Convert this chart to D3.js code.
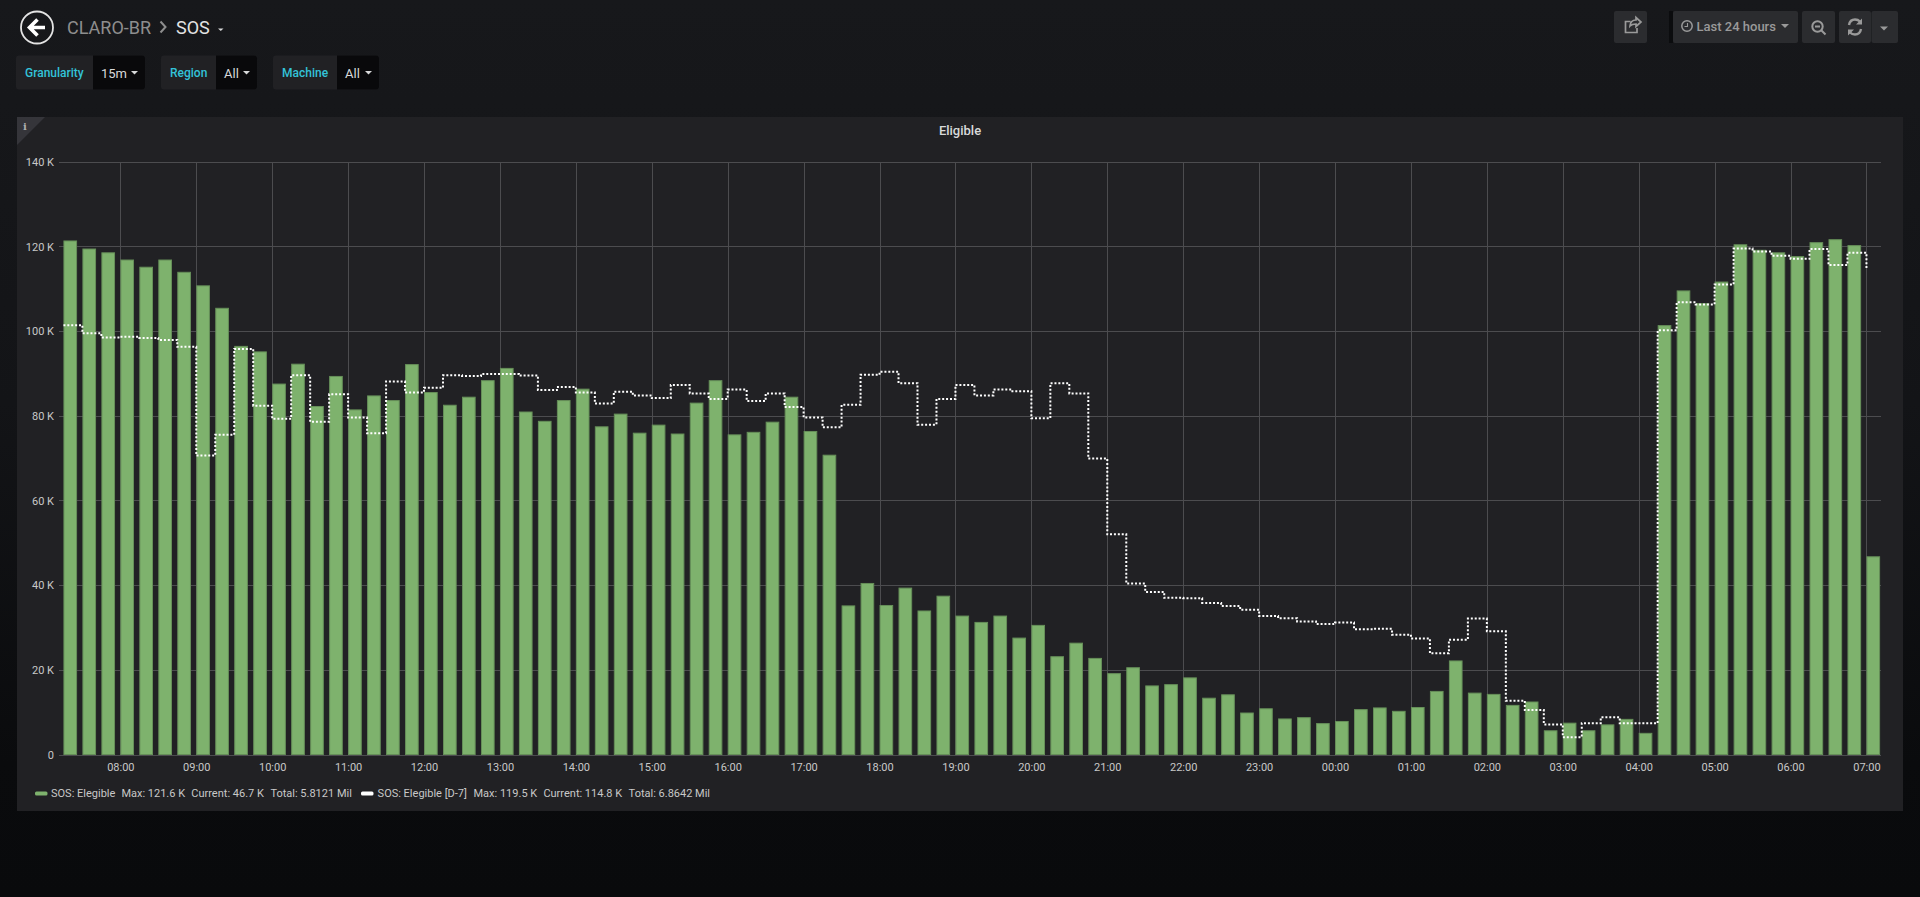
<!DOCTYPE html>
<html>
<head>
<meta charset="utf-8">
<title>SOS</title>
<script src="https://cdn.jsdelivr.net/npm/d3@7"></script>
<style>
  html, body { margin: 0; padding: 0; background: #0b0c0e; overflow: hidden; }
  svg { display: block; font-family: Roboto, "Open Sans", sans-serif; }
  .axis text { fill: #c8c8c8; font-size: 11px; font-family: Roboto, sans-serif; }
  .axis line { stroke: #4c4c4f; shape-rendering: crispEdges; }
  .axis .domain { display: none; }
  .legend text { fill: #c8c8c8; font-size: 11px; }
</style>
</head>
<body>
<svg id="page" width="1920" height="897"></svg>
<script>
// 15 minute samples, first one at 07:15, values in thousands
const elegible = [
  121.3, 119.4, 118.5, 116.8, 115.1, 116.8, 113.9, 110.7, 105.4, 96.4, 95.1, 87.5,
  92.2, 82.2, 89.3, 81.4, 84.7, 83.6, 92.1, 85.5, 82.5, 84.4, 88.3, 91.2,
  80.9, 78.7, 83.6, 86.3, 77.4, 80.4, 75.9, 77.8, 75.7, 83.0, 88.3, 75.5,
  76.1, 78.5, 84.4, 76.3, 70.7, 35.1, 40.4, 35.2, 39.3, 33.9, 37.4, 32.7,
  31.2, 32.7, 27.5, 30.5, 23.1, 26.3, 22.7, 19.1, 20.5, 16.2, 16.5, 18.1,
  13.3, 14.1, 9.8, 10.8, 8.4, 8.7, 7.3, 7.8, 10.6, 11.0, 10.2, 11.1,
  14.9, 22.1, 14.5, 14.2, 11.6, 12.4, 5.6, 7.4, 5.6, 7.0, 8.3, 5.0,
  101.3, 109.5, 106.5, 111.6, 120.4, 119.1, 118.5, 117.6, 120.9, 121.6, 120.2, 46.7
];
const elegibleD7 = [
  101.4, 99.5, 98.5, 98.7, 98.4, 97.9, 96.3, 70.6, 75.5, 95.8, 82.4, 79.3,
  89.6, 78.6, 85.1, 79.6, 75.9, 88.1, 85.5, 86.6, 89.6, 89.4, 89.9, 89.9,
  89.5, 86.1, 86.8, 85.5, 82.9, 85.7, 84.8, 84.2, 87.3, 85.3, 84.0, 86.2,
  83.5, 85.3, 82.1, 79.6, 77.3, 82.6, 89.7, 90.4, 87.7, 77.9, 84.0, 87.3,
  84.8, 86.2, 85.8, 79.4, 87.7, 85.3, 69.9, 52.0, 40.4, 38.4, 37.0, 36.9,
  35.8, 35.1, 34.2, 32.7, 32.2, 31.4, 30.8, 31.2, 29.6, 29.7, 28.3, 27.4,
  23.9, 27.1, 32.1, 29.1, 12.7, 10.5, 7.1, 4.1, 7.4, 8.8, 7.4, 7.4,
  100.2, 106.8, 106.3, 111.0, 119.5, 118.8, 117.8, 117.1, 119.4, 115.6, 118.5, 114.8
];
const yTicks = [0, 20, 40, 60, 80, 100, 120, 140];
const legendItems = [
  ["SOS: Elegible", "Max: 121.6 K", "Current: 46.7 K", "Total: 5.8121 Mil"],
  ["SOS: Elegible [D-7]", "Max: 119.5 K", "Current: 114.8 K", "Total: 6.8642 Mil"]
];
const templateVars = [
  { label: "Granularity", value: "15m", x: 16, split: 93, end: 145 },
  { label: "Region", value: "All", x: 161, split: 216, end: 257 },
  { label: "Machine", value: "All", x: 273, split: 337, end: 379 }
];

const svg = d3.select("#page");

const defs = svg.append("defs");
const bgGrad = defs.append("linearGradient").attr("id", "bg")
  .attr("x1", 0).attr("y1", 0).attr("x2", 0).attr("y2", 1);
bgGrad.append("stop").attr("offset", "0").attr("stop-color", "#17181b");
bgGrad.append("stop").attr("offset", "0.45").attr("stop-color", "#131417");
bgGrad.append("stop").attr("offset", "0.85").attr("stop-color", "#0a0b0d");
bgGrad.append("stop").attr("offset", "1").attr("stop-color", "#090a0c");
svg.append("rect").attr("width", 1920).attr("height", 897).attr("fill", "url(#bg)");

// ---- panel ----
const panel = { x: 17, y: 117, w: 1886, h: 694 };
svg.append("rect")
  .attr("x", panel.x).attr("y", panel.y)
  .attr("width", panel.w).attr("height", panel.h)
  .attr("fill", "#212124");
svg.append("path")
  .attr("d", `M${panel.x},${panel.y}h28l-28,28z`)
  .attr("fill", "#35353a");
svg.append("text")
  .attr("x", 25).attr("y", 130)
  .attr("text-anchor", "middle")
  .attr("font-family", "DejaVu Serif, serif")
  .attr("font-weight", 700).attr("font-size", 10)
  .attr("fill", "#b0b0b0")
  .text("i");
svg.append("text")
  .attr("x", 960).attr("y", 135)
  .attr("text-anchor", "middle")
  .attr("font-size", 13).attr("font-weight", 500)
  .attr("fill", "#d8d9da")
  .text("Eligible");

// ---- chart ----
const t0 = Date.UTC(2018, 0, 1, 7, 15);
const times = elegible.map((_, i) => new Date(t0 + i * 15 * 60000));

const x = d3.scaleUtc()
  .domain([new Date(Date.UTC(2018, 0, 1, 7, 11, 30)), new Date(Date.UTC(2018, 0, 2, 7, 11, 30))])
  .range([59, 1881]);
const y = d3.scaleLinear().domain([0, 140]).range([754.5, 161.8]);

svg.append("g")
  .attr("class", "axis")
  .attr("transform", "translate(0,754.5)")
  .call(d3.axisBottom(x)
    .ticks(d3.utcHour.every(1))
    .tickFormat(d3.utcFormat("%H:%M"))
    .tickSize(-(754.5 - 161.8))
    .tickPadding(9));

svg.append("g")
  .attr("class", "axis")
  .attr("transform", "translate(59,0)")
  .call(d3.axisLeft(y)
    .tickValues(yTicks)
    .tickFormat(d => d === 0 ? "0" : d + " K")
    .tickSize(-(1881 - 59))
    .tickPadding(5));

const barW = x(new Date(t0 + 10 * 60000)) - x(new Date(t0));

svg.append("g")
  .selectAll("rect")
  .data(elegible)
  .join("rect")
  .attr("x", (d, i) => x(times[i]) + 0.5)
  .attr("y", d => y(d))
  .attr("width", barW)
  .attr("height", d => y(0) - y(d))
  .attr("fill", "#7eb26d")
  .attr("stroke", "#668f59")
  .attr("stroke-width", 1);

const stepLine = d3.line()
  .x((d, i) => x(times[i]))
  .y(d => y(d))
  .curve(d3.curveStepAfter);

svg.append("path")
  .datum(elegibleD7)
  .attr("d", stepLine)
  .attr("fill", "none")
  .attr("stroke", "#ffffff")
  .attr("stroke-width", 2)
  .attr("stroke-dasharray", "2 1.9");

// ---- legend ----
const legend = svg.append("g").attr("class", "legend");
const legendSwatchX = [35, 361];
const legendColX = [[51, 121.4, 191.3, 270.4], [377.6, 473.5, 543.4, 628.6]];
const legendColors = ["#7eb26d", "#ffffff"];
legendItems.forEach((row, i) => {
  legend.append("rect")
    .attr("x", legendSwatchX[i]).attr("y", 791.5)
    .attr("width", 12.5).attr("height", 4).attr("rx", 1.5)
    .attr("fill", legendColors[i]);
  row.forEach((t, j) => {
    legend.append("text")
      .attr("x", legendColX[i][j]).attr("y", 797.3)
      .text(t);
  });
});

// ---- header ----
const header = svg.append("g");
header.append("circle")
  .attr("cx", 37).attr("cy", 27.5).attr("r", 16)
  .attr("fill", "none").attr("stroke", "#e4e4e4").attr("stroke-width", 1.8);
header.append("path")
  .attr("d", "M37.5,19.5L29.5,27.5L37.5,35.5M30.5,27.5H45")
  .attr("fill", "none").attr("stroke", "#ffffff").attr("stroke-width", 3.6);
header.append("text")
  .attr("x", 67).attr("y", 33.5)
  .attr("font-size", 18).attr("fill", "#8e8e8e")
  .text("CLARO-BR");
header.append("path")
  .attr("d", "M160.5,21.5L165.5,27L160.5,32.5")
  .attr("fill", "none").attr("stroke", "#8e8e8e").attr("stroke-width", 2);
header.append("text")
  .attr("x", 176).attr("y", 33.5)
  .attr("font-size", 18).attr("fill", "#e3e3e3")
  .text("SOS");
header.append("path").attr("d", "M218,28.5h5.5l-2.75,2.5z").attr("fill", "#d8d9da");

// ---- template variables ----
templateVars.forEach(v => {
  const g = svg.append("g");
  g.append("rect")
    .attr("x", v.x).attr("y", 55.5).attr("width", v.end - v.x).attr("height", 34).attr("rx", 3)
    .attr("fill", "#212124");
  g.append("path")
    .attr("d", `M${v.split},55.5H${v.end - 3}q3,0 3,3V86.5q0,3 -3,3H${v.split}z`)
    .attr("fill", "#09090b");
  g.append("text")
    .attr("x", v.x + 9).attr("y", 77)
    .attr("font-size", 12).attr("font-weight", 500).attr("fill", "#33c3d9")
    .text(v.label);
  g.append("text")
    .attr("x", v.split + 8).attr("y", 78)
    .attr("font-size", 13).attr("fill", "#d8d9da")
    .text(v.value);
  g.append("path")
    .attr("d", `M${v.end - 14},71h7l-3.5,3.5z`)
    .attr("fill", "#d8d9da");
});

// ---- toolbar ----
const toolbarBtn = (x0, x1) => svg.append("rect")
  .attr("x", x0).attr("y", 11).attr("width", x1 - x0).attr("height", 32).attr("rx", 2)
  .attr("fill", "#2b2c2f");
const iconGray = "#9a9a9a";

svg.append("rect").attr("x", 1669).attr("y", 11).attr("width", 4).attr("height", 32).attr("fill", "#0b0c0e");
toolbarBtn(1614, 1647);
toolbarBtn(1673, 1798);
toolbarBtn(1802, 1835);
toolbarBtn(1839, 1871);
toolbarBtn(1871.5, 1898);

// share
svg.append("path")
  .attr("d", "M1637,28v4.5h-11.5v-11h5M1630,26q0.5,-6 6,-6V17.5l5,4.5l-5,4.5V24q-4,0 -6,2z")
  .attr("fill", "none").attr("stroke", iconGray).attr("stroke-width", 1.7);

// time picker
svg.append("circle").attr("cx", 1687).attr("cy", 26).attr("r", 5.2)
  .attr("fill", "none").attr("stroke", iconGray).attr("stroke-width", 1.5);
svg.append("path").attr("d", "M1687.5,23v3.5h-3")
  .attr("fill", "none").attr("stroke", iconGray).attr("stroke-width", 1.1);
svg.append("text")
  .attr("x", 1696.5).attr("y", 31)
  .attr("font-size", 13).attr("font-weight", 500).attr("fill", iconGray)
  .text("Last 24 hours");
svg.append("path").attr("d", "M1781,24h8l-4,4z").attr("fill", iconGray);

// zoom out
svg.append("circle").attr("cx", 1817.5).attr("cy", 26.5).attr("r", 5.2)
  .attr("fill", "none").attr("stroke", iconGray).attr("stroke-width", 2);
svg.append("path").attr("d", "M1815,26.5h5M1821.5,30.5l4,4")
  .attr("fill", "none").attr("stroke", iconGray).attr("stroke-width", 2);

// refresh
svg.append("path")
  .attr("d", "M1849,25q1,-5.5 6,-5.5q3,0 5,2M1861,29q-1,5.5 -6,5.5q-3,0 -5,-2")
  .attr("fill", "none").attr("stroke", iconGray).attr("stroke-width", 2.4);
svg.append("path").attr("d", "M1862,18.5v6h-6zM1848,35.5v-6h6z").attr("fill", iconGray);
svg.append("path").attr("d", "M1880,26.5h8l-4,4z").attr("fill", iconGray);
</script>
</body>
</html>
